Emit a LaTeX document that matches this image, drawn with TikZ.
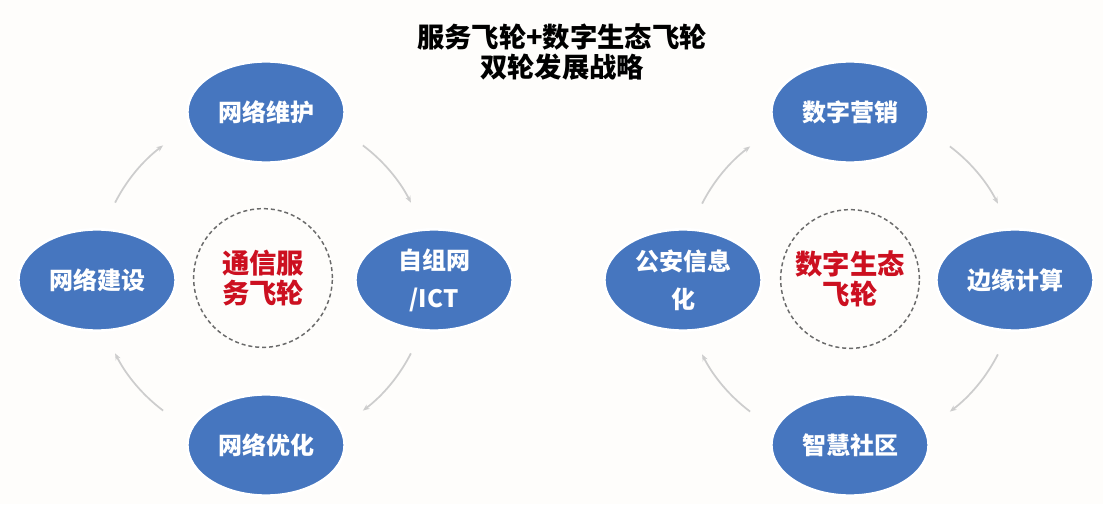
\documentclass[tikz,border=0pt]{standalone}
\usepackage{fontspec}
\setmainfont{Noto Sans CJK SC}
\usetikzlibrary{arrows.meta,shapes.geometric}
\definecolor{bgc}{HTML}{FEFDFB}
\definecolor{bluec}{HTML}{4676BF}
\definecolor{redc}{HTML}{CC1020}
\definecolor{arrc}{HTML}{CDCDCD}
\definecolor{dashc}{HTML}{6A6A6A}
\tikzset{
  x=0.75pt, y=0.75pt,
  petal/.style={ellipse, draw=white, line width=2pt, fill=bluec,
    minimum width=118pt, minimum height=76pt, inner sep=0pt,
    text=white, font=\fontsize{18}{28.5}\selectfont\bfseries, align=center},
  hub/.style={circle, draw=dashc, line width=1.1pt, dash pattern=on 3pt off 2.2pt,
    minimum size=104pt, inner sep=0pt, text=redc,
    font=\fontsize{20.5}{22.5}\selectfont\bfseries, align=center},
  flow/.style={draw=arrc, line width=1.3pt, -{Stealth[length=5pt,width=4pt]}},
  titletext/.style={font=\fontsize{20.5}{22.5}\selectfont\bfseries, align=center, text=black, inner sep=0pt}
}
\begin{document}
\begin{tikzpicture}
\fill[bgc] (0,0) rectangle (1103,504);
\useasboundingbox (0,0) rectangle (1103,504);

\node[titletext] (title) at (562,452) {服务飞轮+数字生态飞轮\\双轮发展战略};

% left wheel
\node[hub] (L) at (263,226) {通信服\\务飞轮};
\node[petal] (Ltop) at (266,392) {网络维护};
\node[petal] (Lleft) at (97,224) {网络建设};
\node[petal] (Lright) at (434,224) {自组网\\/ICT};
\node[petal] (Lbot) at (266,59) {网络优化};

% right wheel
\node[hub] (R) at (850,225) {数字生态\\飞轮};
\node[petal] (Rtop) at (850,392) {数字营销};
\node[petal] (Rleft) at (683,224) {公安信息\\化};
\node[petal] (Rright) at (1015,224) {边缘计算};
\node[petal] (Rbot) at (850,59) {智慧社区};

% flow arcs (clockwise)
\foreach \c in {L,R}{
  \draw[flow] (\c.center) ++(153:166) arc[start angle=153, end angle=127, radius=166];
  \draw[flow] (\c.center) ++(53:166) arc[start angle=53, end angle=27, radius=166];
  \draw[flow] (\c.center) ++(-27:166) arc[start angle=-27, end angle=-53, radius=166];
  \draw[flow] (\c.center) ++(-127:166) arc[start angle=-127, end angle=-153, radius=166];
}
\end{tikzpicture}
\end{document}
